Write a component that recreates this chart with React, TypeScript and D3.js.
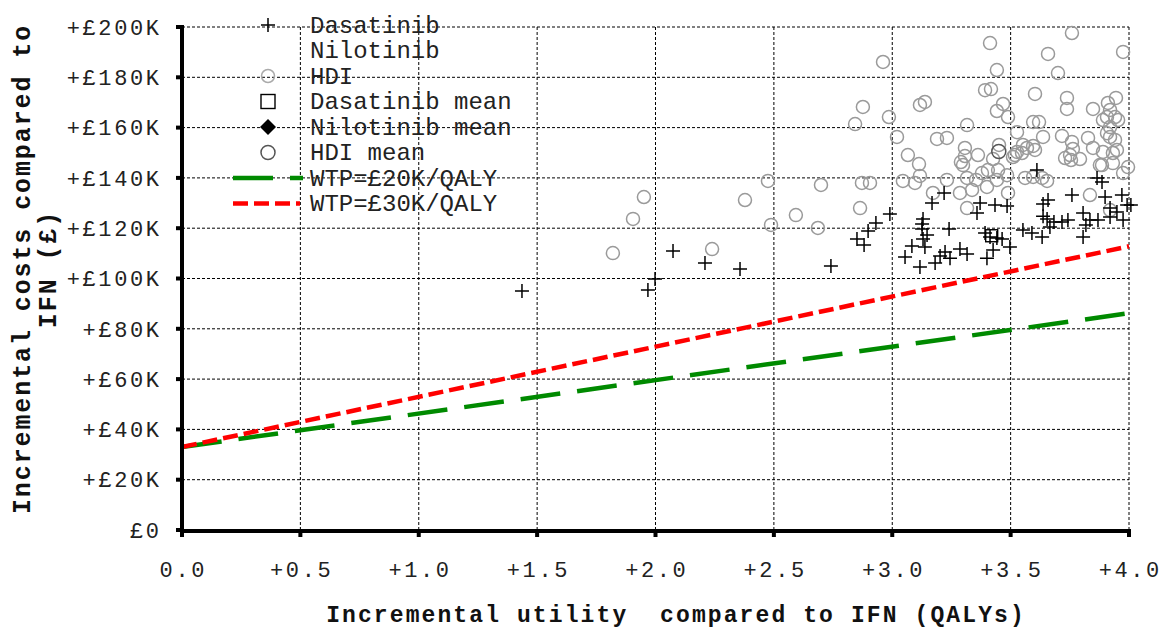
import React from "react";
import * as d3 from "d3";

// ---- Data ----
const hdiX = [1.820,1.905,1.951,2.239,2.378,2.475,2.488,2.593,2.699,2.686,2.872,2.906,2.864,2.843,2.876,2.961,2.986,3.020,3.066,3.113,3.045,3.096,3.117,3.117,3.138,3.172,3.189,3.231,3.231,3.290,3.299,3.307,3.316,3.316,3.286,3.337,3.316,3.362,3.413,3.442,3.392,3.417,3.468,3.442,3.489,3.451,3.426,3.404,3.447,3.379,3.400,3.442,3.485,3.489,3.527,3.527,3.552,3.510,3.595,3.603,3.595,3.620,3.603,3.658,3.700,3.759,3.975,3.738,3.738,3.848,3.911,3.945,3.920,3.941,3.907,3.890,3.920,3.954,3.637,3.717,3.759,3.763,3.827,3.848,3.730,3.755,3.793,3.751,3.890,3.932,3.886,3.996,3.920,3.941,3.907,3.949,3.561,3.595,3.633,3.654,3.835,3.920,3.877,3.932,3.975,3.518,3.548,3.569,3.354,3.307];
const hdiY = [110.1,123.7,132.4,111.7,131.2,138.8,121.3,125.2,137.2,120.1,138.0,138.0,128.0,161.4,168.2,186.1,164.2,156.3,149.1,145.5,138.8,138.0,140.8,169.0,170.2,134.0,155.5,155.9,139.2,146.3,145.1,148.7,161.0,140.0,134.0,135.2,128.0,149.1,193.6,182.9,174.9,175.3,169.4,166.6,164.2,153.1,147.5,143.1,143.1,141.9,136.4,139.2,141.1,134.0,158.2,150.3,153.1,148.3,152.7,151.1,162.2,162.2,173.4,189.3,181.7,197.6,190.1,171.8,167.4,167.4,169.8,171.8,167.0,164.2,164.2,163.0,160.2,163.0,156.3,156.7,154.3,151.5,155.9,151.9,147.9,147.1,147.5,149.1,150.3,149.9,145.1,144.3,156.3,155.1,157.8,151.1,140.0,140.4,140.0,138.8,133.2,127.2,145.1,145.9,141.9,149.1,149.9,151.9,139.2,151.9];

const dasX = [1.436,1.968,1.998,2.074,2.209,2.357,2.741,2.851,2.881,2.898,2.931,2.990,3.054,3.083,3.117,3.138,3.130,3.126,3.126,3.147,3.130,3.168,3.219,3.181,3.202,3.223,3.244,3.240,3.286,3.316,3.358,3.371,3.434,3.485,3.392,3.413,3.442,3.464,3.400,3.426,3.497,3.552,3.590,3.633,3.611,3.637,3.658,3.637,3.654,3.666,3.683,3.717,3.742,3.759,3.806,3.806,3.835,3.869,3.865,3.886,3.899,3.920,3.949,3.970,3.975,3.992,4.008,3.920,3.818];
const dasY = [95.0,95.4,99.8,110.9,106.2,103.8,105.0,115.7,113.3,118.9,122.1,125.6,108.5,112.9,104.6,112.5,123.7,121.7,119.7,117.3,115.7,130.0,134.0,106.2,108.9,110.5,108.1,119.7,111.7,109.7,126.0,130.0,129.2,128.8,118.1,116.5,116.1,115.7,108.1,111.3,112.5,119.3,118.1,116.5,143.1,129.6,131.2,124.8,123.7,120.5,122.5,122.5,123.3,133.2,126.0,116.5,123.3,123.3,140.0,138.4,132.4,124.5,126.4,133.2,123.3,129.2,129.2,128.0,121.3];

const dasMean = [3.42, 117.0];
const hdiMean = [3.45, 150.5];

const wtp20X = [0, 4];
const wtp20Y = [33.0, 86.2];
const wtp30X = [0, 4];
const wtp30Y = [33.0, 112.8];

const xTicks = [0, 0.5, 1, 1.5, 2, 2.5, 3, 3.5, 4];
const yTicks = [0, 20, 40, 60, 80, 100, 120, 140, 160, 180, 200];
const xTickLabels = ["0.0", "+0.5", "+1.0", "+1.5", "+2.0", "+2.5", "+3.0", "+3.5", "+4.0"];
const yTickLabels = ["£0", "+£20K", "+£40K", "+£60K", "+£80K", "+£100K", "+£120K", "+£140K", "+£160K", "+£180K", "+£200K"];

const legendLabels = ["Dasatinib", "Nilotinib", "HDI", "Dasatinib mean", "Nilotinib mean", "HDI mean", "WTP=£20K/QALY", "WTP=£30K/QALY"];

const FONT = "'Liberation Mono', 'Courier New', monospace";

export default function App() {
  const W = 1173, H = 628;
  const x = d3.scaleLinear().domain([0, 4]).range([182, 1129]);
  const y = d3.scaleLinear().domain([0, 200]).range([530, 27]);
  const line = d3.line<[number, number]>().x(d => x(d[0])).y(d => y(d[1]));

  const tickLS = 2.6;
  const legendX = 268, legendTextX = 310, legendY0 = 25, legendDy = 25.5;

  const plus = (cx: number, cy: number, s: number, key: any) => (
    <path key={key} d={`M${cx - s},${cy}H${cx + s}M${cx},${cy - s}V${cy + s}`} stroke="#000" strokeWidth={1.5} fill="none" />
  );

  return (
    <svg width={W} height={H} style={{ position: "absolute", left: 0, top: 0, background: "#fff" }}>
      <rect x={0} y={0} width={W} height={H} fill="#fff" />
      {/* grid */}
      <g stroke="#000" strokeWidth={1} strokeDasharray="3,2" fill="none">
        {yTicks.map(t => <line key={"gy" + t} x1={x(0)} x2={x(4)} y1={y(t)} y2={y(t)} />)}
        {xTicks.map(t => <line key={"gx" + t} x1={x(t)} x2={x(t)} y1={y(200)} y2={y(0)} />)}
      </g>

      {/* WTP lines */}
      <path d={line(wtp20X.map((v, i) => [v, wtp20Y[i]]) as any) || ""} stroke="#008a00" strokeWidth={4.5} strokeDasharray="40,17" fill="none" />
      <path d={line(wtp30X.map((v, i) => [v, wtp30Y[i]]) as any) || ""} stroke="#ff0000" strokeWidth={4.5} strokeDasharray="15,6" fill="none" />

      {/* HDI points */}
      <g fill="none" stroke="#9a9a9a" strokeWidth={1.5}>
        {hdiX.map((v, i) => <circle key={"h" + i} cx={x(v)} cy={y(hdiY[i])} r={6.5} />)}
      </g>
      {/* Dasatinib points */}
      <g>
        {dasX.map((v, i) => plus(x(v), y(dasY[i]), 7, "d" + i))}
      </g>
      {/* means */}
      <rect x={x(dasMean[0]) - 6} y={y(dasMean[1]) - 6} width={12} height={12} fill="none" stroke="#000" strokeWidth={1.4} />
      <circle cx={x(hdiMean[0])} cy={y(hdiMean[1])} r={7} fill="none" stroke="#555" strokeWidth={1.5} />

      {/* axes */}
      <line x1={x(0)} x2={x(0)} y1={y(200) - 2} y2={y(0) + 3} stroke="#000" strokeWidth={4} />
      <line x1={x(0) - 2} x2={x(4) + 2} y1={y(0) + 1} y2={y(0) + 1} stroke="#000" strokeWidth={4} />
      {yTicks.map(t => <rect key={"ty" + t} x={x(0) - 6} y={y(t) - 2} width={6} height={4} fill="#000" />)}
      {xTicks.map(t => <rect key={"tx" + t} x={x(t) - 2} y={y(0) + 1} width={4} height={6} fill="#000" />)}

      {/* tick labels */}
      <g fontFamily={FONT} fontSize={22} fill="#222">
        {yTicks.map((t, i) => (
          <text key={"ly" + t} x={159 + tickLS} y={y(t)} dy="0.35em" textAnchor="end" letterSpacing={tickLS}>{yTickLabels[i]}</text>
        ))}
        {xTicks.map((t, i) => (
          <text key={"lx" + t} x={x(t) + tickLS / 2} y={577} textAnchor="middle" letterSpacing={tickLS}>{xTickLabels[i]}</text>
        ))}
      </g>

      {/* axis titles */}
      <text x={676} y={622} textAnchor="middle" fontFamily={FONT} fontWeight="bold" fontSize={23} letterSpacing={2.1} fill="#111" style={{ whiteSpace: "pre" }}>
        {"Incremental utility  compared to IFN (QALYs)"}
      </text>
      <g transform="translate(30,269) rotate(-90)">
        <text x={0} y={0} textAnchor="middle" fontFamily={FONT} fontWeight="bold" fontSize={25} letterSpacing={1.9} fill="#111">
          Incremental costs compared to
        </text>
        <text x={0} y={26} textAnchor="middle" fontFamily={FONT} fontWeight="bold" fontSize={25} letterSpacing={1.9} fill="#111">
          IFN (£)
        </text>
      </g>

      {/* legend */}
      <g>
        {plus(legendX, legendY0, 7, "lg0")}
        <circle cx={legendX} cy={legendY0 + 2 * legendDy} r={6.5} fill="none" stroke="#aaa" strokeWidth={1.5} />
        <rect x={legendX - 7} y={legendY0 + 3 * legendDy - 7} width={14} height={14} fill="none" stroke="#000" strokeWidth={1.4} />
        <path d={`M${legendX},${legendY0 + 4 * legendDy - 8}L${legendX + 8},${legendY0 + 4 * legendDy}L${legendX},${legendY0 + 4 * legendDy + 8}L${legendX - 8},${legendY0 + 4 * legendDy}Z`} fill="#000" />
        <circle cx={legendX} cy={legendY0 + 5 * legendDy} r={7} fill="none" stroke="#555" strokeWidth={1.5} />
        <line x1={233} x2={303} y1={legendY0 + 6 * legendDy} y2={legendY0 + 6 * legendDy} stroke="#008a00" strokeWidth={4.5} strokeDasharray="40,17" />
        <line x1={233} x2={300} y1={legendY0 + 7 * legendDy} y2={legendY0 + 7 * legendDy} stroke="#ff0000" strokeWidth={4.5} strokeDasharray="15,6" />
        {legendLabels.map((l, i) => (
          <text key={"lt" + i} x={legendTextX} y={legendY0 + i * legendDy} dy="0.33em" fontFamily={FONT} fontSize={24} fill="#222" style={{ whiteSpace: "pre" }}>{l}</text>
        ))}
      </g>
    </svg>
  );
}
